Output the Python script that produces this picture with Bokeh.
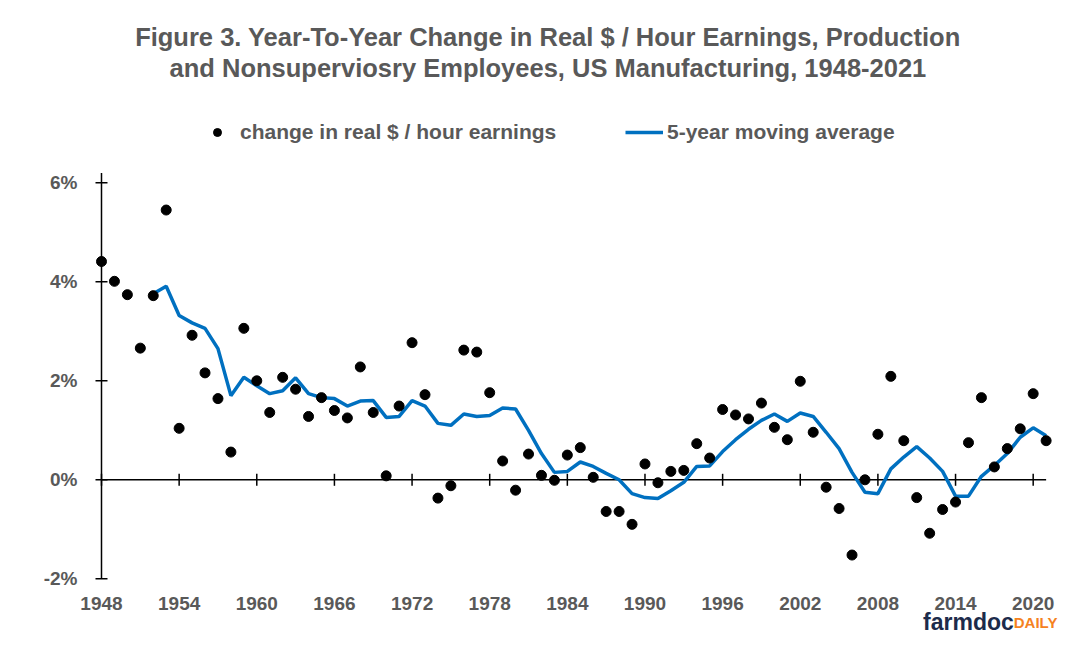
import numpy as np
from bokeh.plotting import figure
from bokeh.models import (Range1d, FixedTicker, PrintfTickFormatter, Label,
                          Legend, LegendItem)
from bokeh.core.properties import value
from bokeh.embed import file_html
from bokeh.resources import INLINE

# ---------------- data ----------------
years = list(range(1948, 2022))
change = [4.41, 4.01, 3.74, 2.66, 3.72, 5.45, 1.04, 2.92, 2.16, 1.64,
          0.56, 3.06, 2.00, 1.36, 2.07, 1.83, 1.28, 1.66, 1.40, 1.25,
          2.28, 1.36, 0.08, 1.49, 2.77, 1.72, -0.37, -0.12, 2.62, 2.58,
          1.76, 0.38, -0.21, 0.52, 0.09, -0.01, 0.50, 0.65, 0.05, -0.64,
          -0.64, -0.90, 0.32, -0.06, 0.17, 0.19, 0.73, 0.44, 1.42, 1.31,
          1.23, 1.55, 1.06, 0.81, 1.99, 0.96, -0.15, -0.58, -1.52, 0.00,
          0.92, 2.09, 0.79, -0.36, -1.08, -0.60, -0.45, 0.75, 1.66, 0.26,
          0.63, 1.03, 1.74, 0.79]
ma_years = list(range(1952, 2022))
ma_vals = [3.76, 3.91, 3.32, 3.17, 3.06, 2.65, 1.70, 2.07, 1.90, 1.74,
           1.80, 2.06, 1.74, 1.66, 1.64, 1.49, 1.59, 1.60, 1.26, 1.28,
           1.60, 1.49, 1.14, 1.10, 1.33, 1.28, 1.30, 1.45, 1.43, 1.00,
           0.53, 0.15, 0.17, 0.36, 0.27, 0.13, 0.00, -0.28, -0.36, -0.38,
           -0.22, -0.05, 0.27, 0.28, 0.57, 0.81, 1.02, 1.20, 1.33, 1.18,
           1.35, 1.28, 0.96, 0.63, 0.15, -0.25, -0.28, 0.22, 0.46, 0.67,
           0.44, 0.17, -0.33, -0.33, 0.07, 0.29, 0.53, 0.86, 1.05, 0.89]
x_ticks = list(range(1948, 2021, 6))
x_labels = [str(t) for t in x_ticks]
y_ticks = [-2, 0, 2, 4, 6]
y_axis_top = 6.2

title1 = "Figure 3. Year-To-Year Change in Real $ / Hour Earnings, Production"
title2 = "and Nonsuperviosry Employees, US Manufacturing, 1948-2021"
leg1 = "change in real $ / hour earnings"
leg2 = "5-year moving average"

GRAY = "#595959"
BLUE = "#0070C0"
FONT = "Liberation Sans"

# frame covers the whole height so that titles, legend and logo are not clipped
p = figure(frame_width=986, frame_height=637,
           min_border_left=78, min_border_right=0,
           min_border_top=0, min_border_bottom=0,
           x_range=Range1d(1946.2226, 2022.42), y_range=Range1d(-3.186, 9.683),
           output_backend="svg", toolbar_location=None)
p.outline_line_color = None
p.xgrid.visible = False
p.ygrid.visible = False
p.xaxis.visible = False

ax = p.yaxis[0]
ax.axis_line_color = None
ax.major_tick_line_color = None
ax.minor_tick_line_color = None
ax.major_tick_in = 0
ax.major_tick_out = 0
ax.major_label_text_font = FONT
ax.major_label_text_font_style = "bold"
ax.major_label_text_color = GRAY
ax.major_label_text_font_size = "19px"
ax.ticker = FixedTicker(ticks=y_ticks)
ax.formatter = PrintfTickFormatter(format="%d%%")
ax.major_label_standoff = 1

# axis lines
p.line([years[0], years[0]], [y_ticks[0], y_axis_top], line_color="black", line_width=1.5)
p.line([years[0], years[-1]], [0, 0], line_color="black", line_width=1.5)
# crossing tick marks
p.scatter([years[0]] * len(y_ticks), y_ticks, marker="dash", size=12,
          line_color="black", line_width=1.5)
p.scatter(x_ticks, [0] * len(x_ticks), marker="dash", angle=np.pi / 2, size=12,
          line_color="black", line_width=1.5)
# category axis labels
p.text(x_ticks, [-2.5] * len(x_ticks), text=x_labels, text_align="center",
       text_baseline="middle", text_font=value(FONT), text_font_style="bold",
       text_font_size="19px", text_color=GRAY)

# data
r_line = p.line(ma_years, ma_vals, line_color=BLUE, line_width=3.5)
r_dots = p.scatter(years, change, size=10, fill_color="black", line_color="black")

# titles
p.add_layout(Label(x=1982.5, y=8.94, text=title1, text_align="center", text_baseline="middle",
                   text_font=FONT, text_font_style="bold", text_font_size="25.5px", text_color=GRAY))
p.add_layout(Label(x=1982.5, y=8.31, text=title2, text_align="center", text_baseline="middle",
                   text_font=FONT, text_font_style="bold", text_font_size="25.5px", text_color=GRAY))

# legends (location in px from the frame's bottom-left corner)
for item, lx in ((LegendItem(label=leg1, renderers=[r_dots]), 120),
                 (LegendItem(label=leg2, renderers=[r_line]), 547)):
    lg = Legend(items=[item], location=(lx, 493), orientation="horizontal",
                glyph_width=38, glyph_height=20, label_standoff=4, padding=0, margin=0,
                border_line_color=None, background_fill_alpha=0,
                label_text_font=FONT, label_text_font_style="bold",
                label_text_font_size="21px", label_text_color=GRAY)
    p.add_layout(lg)

# logo
p.add_layout(Label(x=2018.5, y=-2.88, text="farmdoc", text_align="right", text_baseline="alphabetic",
                   text_font=FONT, text_font_style="bold", text_font_size="23px", text_color="#1c2b4b"))
p.add_layout(Label(x=2018.5, y=-2.88, text="DAILY", text_align="left", text_baseline="alphabetic",
                   text_font=FONT, text_font_style="bold", text_font_size="15px", text_color="#f5821f"))

open("out.html", "w").write(file_html(p, INLINE))
